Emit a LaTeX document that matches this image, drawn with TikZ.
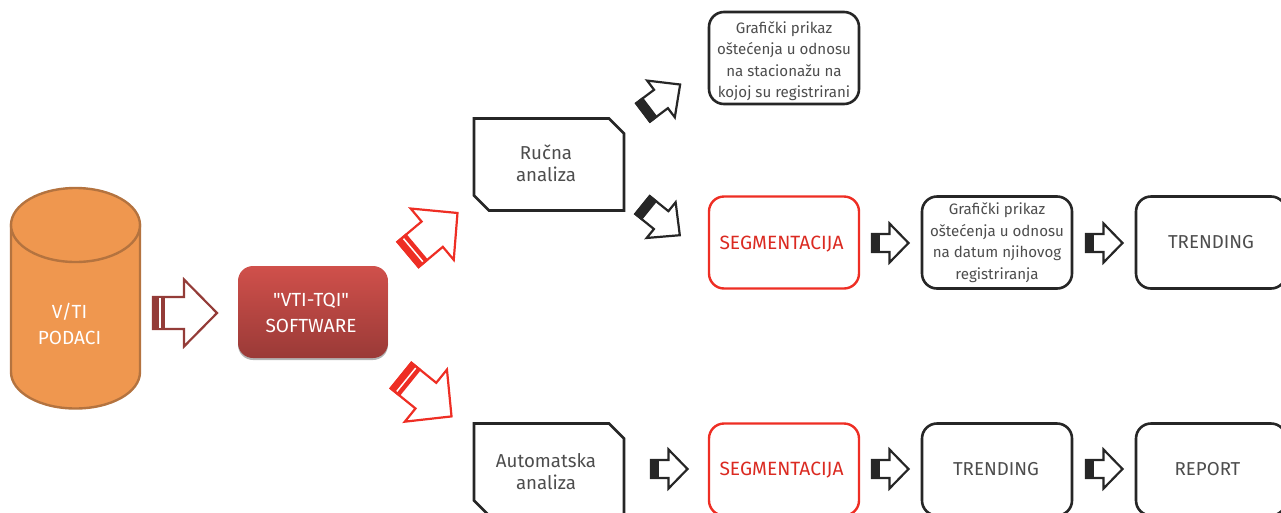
\documentclass[tikz,border=0pt]{standalone}
\usepackage{fontspec}
\setmainfont{Fira Sans}
\newfontfamily\quotef{Fira Sans}
\usetikzlibrary{shadows}
\definecolor{txt}{HTML}{4D4D4D}
\definecolor{ink}{HTML}{262626}
\definecolor{redl}{HTML}{EE2E24}
\definecolor{maroon}{HTML}{943C38}
\definecolor{orfill}{HTML}{EF974F}
\definecolor{oredge}{HTML}{B4733F}
\tikzset{
  x=1pt,y=-1pt,
  base/.style={text=txt,font=\fontsize{18.7}{22}\selectfont,align=center,inner sep=0pt},
  blackbox/.style={base,draw=ink,line width=2.6pt,rounded corners=15pt,fill=white},
  redbox/.style={base,draw=redl,line width=2.4pt,rounded corners=15pt,fill=white,minimum width=150pt,minimum height=92pt},
  flowbox/.style={blackbox,minimum width=150pt,minimum height=92pt},
  cutbox/.style={base,outer sep=0pt,minimum width=150pt,minimum height=92pt},
  cutline/.style={draw=ink,line width=2.6pt,line join=miter},
  smalltxt/.style={font=\fontsize{15.1}{21.5}\selectfont},
  seglabel/.style={base,text=redl!92!black,font=\fontsize{19.2}{22}\selectfont},
  lighttxt/.style={base,text=white,font=\fontsize{19}{26}\selectfont},
}
\newcommand\blockarrow[9]{%
  \begin{scope}[shift={(#1,#2)},rotate=#3]
    \draw[#9,line width=2.2pt,miter limit=10,fill=white,line join=miter]
      (0,-#5) -- ({#4-#7},-#5) -- ({#4-#7},-#6) -- (#4,0) -- ({#4-#7},#6) -- ({#4-#7},#5) -- (0,#5) -- cycle;
    \fill[#9] (-1,-#5-1) rectangle (#8,#5+1);
  \end{scope}}
\newcommand\stripe[4]{%
  \begin{scope}[shift={(#1,#2)},rotate=#3]
    \fill[white] (6,-#4) rectangle (7.5,#4);
  \end{scope}}
\newcommand\cutoutline[1]{%
  \draw[cutline] (#1.north west) -- ([xshift=-15pt]#1.north east) -- ([yshift=-15pt]#1.north east)
    -- (#1.south east) -- ([xshift=15pt]#1.south west) -- ([yshift=15pt]#1.south west) -- cycle;}
\begin{document}
\begin{tikzpicture}
\useasboundingbox (0,0) rectangle (1281,512);
\clip (0,0) rectangle (1281,512);
% cylinder
\draw[line width=2.4pt,fill=orfill,draw=oredge]
  (11,225) -- (11,372) .. controls (11,392.5) and (40,408.5) .. (75.5,408.5)
  .. controls (111,408.5) and (140,392.5) .. (140,372) -- (140,225) -- cycle;
\draw[line width=2.4pt,fill=orfill,draw=oredge]
  (75.5,225) ellipse[x radius=64.5,y radius=37];
\node[lighttxt] (db) at (69.5,323.5) {V/TI\\PODACI};
% software
\node[lighttxt,rounded corners=15pt,minimum width=150pt,minimum height=92pt,
  top color={rgb,255:red,208;green,80;blue,75},bottom color={rgb,255:red,154;green,58;blue,55},
  drop shadow={shadow xshift=0pt,shadow yshift=-2pt,opacity=.6}] (sw) at (313,312) {};
\node[lighttxt] (swt) at (311,313) {{\quotef"VTI-TQI"}\\SOFTWARE};
% boxes
\node[flowbox,smalltxt] (g1) at (784,58) {\rule{0pt}{18pt}Grafički prikaz\\oštećenja u odnosu\\na stacionažu na\\kojoj su registrirani};
\node[cutbox] (ra) at (549,164.5) {};
\cutoutline{ra}
\node[base] (rat) at (546,163.5) {Ručna\\analiza};
\node[cutbox] (aa) at (549,469.5) {};
\cutoutline{aa}
\node[base] (aat) at (546,472) {Automatska\\analiza};
\node[redbox] (s1) at (784,242.5) {};
\node[seglabel] (s1t) at (781.5,244) {SEGMENTACIJA};
\node[redbox] (s2) at (784,469.5) {};
\node[seglabel] (s2t) at (781.5,470) {SEGMENTACIJA};
\node[flowbox,smalltxt] (g2) at (997,242.5) {Grafički prikaz\\oštećenja u odnosu\\na datum njihovog\\registriranja};
\node[flowbox] (t1) at (1211,242.5) {TRENDING};
\node[flowbox] (t2) at (997,469.5) {};
\node[base] (t2t) at (996,469) {TRENDING};
\node[flowbox] (r1) at (1211,469.5) {};
\node[base] (r1t) at (1207.5,469) {REPORT};
% arrows
\blockarrow{153}{313}{0}{64}{16}{33.5}{33}{12}{maroon}
\stripe{153}{313}{0}{15}
\blockarrow{408}{254.5}{40}{64.6}{16.5}{33.5}{33}{12}{redl}
\stripe{408}{254.5}{40}{15}
\blockarrow{401}{375.5}{-39}{65}{16.5}{33.5}{33}{12}{redl}
\stripe{401}{375.5}{-39}{15}
\blockarrow{643}{112.5}{37}{46.5}{11.5}{23}{24}{9}{ink}
\blockarrow{642.5}{205}{-39}{48}{11.5}{23}{24}{9}{ink}
\blockarrow{651}{469}{0}{36.5}{9}{19.5}{19}{8}{ink}
\blockarrow{872}{243}{0}{36.5}{9}{19.5}{19}{8}{ink}
\blockarrow{1086}{243}{0}{36.5}{9}{19.5}{19}{8}{ink}
\blockarrow{872}{469}{0}{36.5}{9}{19.5}{19}{8}{ink}
\blockarrow{1086}{469}{0}{36.5}{9}{19.5}{19}{8}{ink}
\end{tikzpicture}
\end{document}
